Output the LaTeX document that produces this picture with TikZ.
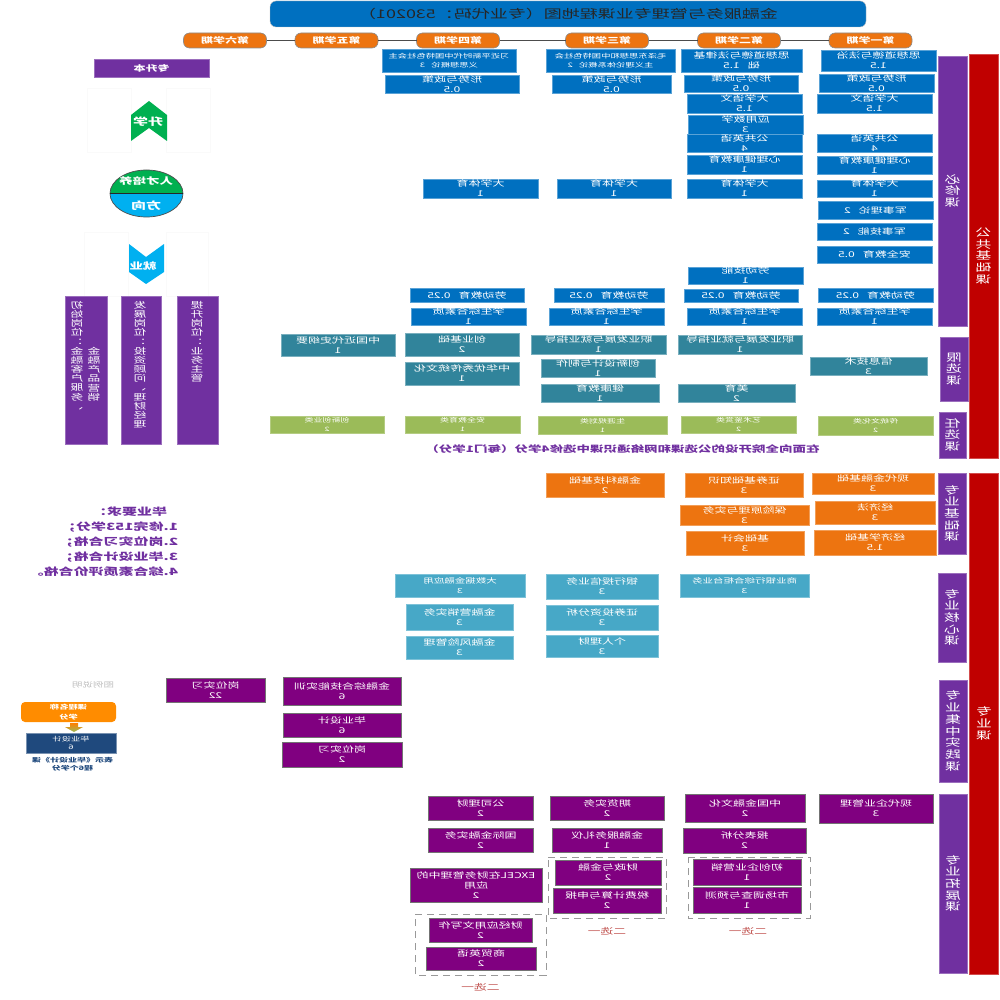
\documentclass[tikz,border=0pt]{standalone}
\usepackage{fontspec}
\setmainfont{Noto Sans CJK SC}[FakeStretch=1.5]
\definecolor{pubblue}{HTML}{0070C0}
\definecolor{pubteal}{HTML}{31849B}
\definecolor{pubgreen}{HTML}{9BBB59}
\definecolor{basorange}{HTML}{ED7410}
\definecolor{corecyan}{HTML}{47A8C7}
\definecolor{promag}{HTML}{800080}
\definecolor{barpurple}{HTML}{7030A0}
\definecolor{barred}{HTML}{C00000}
\definecolor{legendblue}{HTML}{1F497D}
\definecolor{arrowgreen}{HTML}{00B050}
\definecolor{arrowcyan}{HTML}{00B0F0}
\definecolor{pickred}{HTML}{C0504D}
\begin{document}
\begin{tikzpicture}[x=1pt, y=-1pt,
    every node/.append style={xscale=-1, inner sep=0pt, outer sep=0pt, align=center},
    course/.style={text=white, line width=0.7pt, font=\fontsize{8}{10}\selectfont},
    pubbox/.style={course, fill=pubblue, draw=pubblue!65},
    limbox/.style={course, fill=pubteal, draw=pubteal!65},
    optbox/.style={course, fill=pubgreen, draw=pubgreen!75, font=\fontsize{6}{9}\selectfont},
    basbox/.style={course, fill=basorange, draw=basorange!70},
    corebox/.style={course, fill=corecyan, draw=corecyan!70},
    magbox/.style={course, fill=promag, draw=black!55},
    tight/.style={font=\fontsize{6.2}{8.5}\selectfont},
    termpill/.style={rounded corners=6pt, fill=basorange, draw=black!45, line width=0.6pt, text=white,
      font=\fontsize{8}{8}\selectfont\bfseries, minimum width=83, minimum height=15},
    redbar/.style={fill=barred, draw=barred!70, text=white, line width=0.5pt, font=\fontsize{10.5}{11.7}\selectfont},
    purplebar/.style={fill=barpurple, draw=barpurple!70, text=white, line width=0.5pt, font=\fontsize{10.5}{11.7}\selectfont},
    jobbox/.style={fill=barpurple, draw=barpurple!70, line width=0.5pt},
    jobtext/.style={anchor=north, text=white, font=\fontsize{8.5}{9.2}\selectfont},
    pickbox/.style={draw=black!40, dashed, dash pattern=on 7pt off 5pt, line width=0.9pt},
    picktext/.style={text=pickred, font=\fontsize{8.5}{9}\selectfont},
    boldwhite/.style={text=white, font=\fontsize{9}{9}\selectfont\bfseries},
    ghost/.style={draw=black!2, line width=0.4pt}]

  \useasboundingbox (0,0) rectangle (1000,1000);

  % ---------------- title and terms ----------------
  \node[fill=pubblue, draw=black!25, rounded corners=6pt, minimum width=596, minimum height=26,
    font=\fontsize{12}{12}\selectfont, text=black!85] (title) at (568,14)
    {金融服务与管理专业课程地图（专业代码：530201）};

  \foreach \n/\x/\t in {t1/870.5/第一学期, t2/739/第二学期, t3/607/第三学期, t4/458/第四学期, t5/336.5/第五学期, t6/225/第六学期}
    \node[termpill] (\n) at (\x,40.5) {\t};
  \foreach \a/\b in {t1/t2, t2/t3, t3/t4, t4/t5, t5/t6}
    \draw[black!70, line width=1pt] (\a) -- (\b);

  % ---------------- category bars ----------------
  \node[redbar, minimum width=29, minimum height=404] (pubbar) at (983.5,256) {公\\共\\基\\础\\课};
  \node[redbar, minimum width=29, minimum height=501] (probar) at (984,723.5) {专\\业\\课};
  \foreach \n/\x/\y/\w/\h/\t in {
      s1/952.5/191/29/270/必\\修\\课,
      s2/954/369/28/64/限\\选\\课,
      s3/952.5/435/27/46/任\\选\\课,
      s4/952/513.5/28/81/专\\业\\基\\础\\课,
      s5/952/617.5/28/89/专\\业\\核\\心\\课,
      s6/953/731/28/102/专\\业\\集\\中\\实\\践\\课,
      s7/953/883.5/28/179/专\\业\\拓\\展\\课}
    \node[purplebar, minimum width=\w, minimum height=\h] (\n) at (\x,\y) {\t};

  % ---------------- public compulsory ----------------
  \foreach \n/\x/\y/\w/\h/\t in {
      a1/878.5/60.5/115/21/思想道德与法治\\1.5,
      a2/876.5/83/115/18/形势与政策\\0.5,
      a3/874.5/103.5/115/19/大学语文\\1.5,
      a4/874.5/143/115/18/公共英语\\4,
      a5/874.5/165/115/18/心理健康教育\\1,
      a6/874.5/188.5/115/17/大学体育\\1,
      a7/875.5/210/115/18/军事理论\quad 2,
      a8/874.5/231.5/115/17/军事技能\quad 2,
      a9/874.5/254.5/115/17/安全教育\quad 0.5,
      a10/875.5/295/115/14/劳动教育\quad 0.25,
      a11/874.5/316.5/115/17/学生综合素质\\1,
      b1/741.5/60.5/121/23/思想道德与法律基\\础\quad 1.5,
      b2/741/83.5/114/17/形势与政策\\0.5,
      b3/744.5/103.5/115/19/大学语文\\1.5,
      b4/745.5/124.5/115/19/应用数学\\3,
      b5/744.5/143/115/18/公共英语\\4,
      b6/744.5/164.5/115/19/心理健康教育\\1,
      b7/744.5/188.5/115/19/大学体育\\1,
      b8/745.5/275.5/115/17/劳动技能\\1,
      b9/741/295.5/114/13/劳动教育\quad 0.25,
      b10/744.5/316.5/115/17/学生综合素质\\1,
      c2/611.5/84/119/18/形势与政策\\0.5,
      c3/614/188.5/114/19/大学体育\\1,
      c4/609/295/110/14/劳动教育\quad 0.25,
      c5/606.5/316.5/115/17/学生综合素质\\1,
      d2/452/84/134/18/形势与政策\\0.5,
      d3/480.5/188.5/115/19/大学体育\\1,
      d4/467/295/114/14/劳动教育\quad 0.25,
      d5/468.5/316.5/115/17/学生综合素质\\1}
    \node[pubbox, minimum width=\w, minimum height=\h] (\n) at (\x,\y) {\t};
  \node[pubbox, tight, minimum width=129, minimum height=23] (c1) at (610.5,60.5) {毛泽东思想和中国特色社会\\主义理论体系概论\quad 2};
  \node[pubbox, tight, minimum width=134, minimum height=23] (d1) at (449,60.5) {习近平新时代中国特色社会主\\义思想概论\quad 3};

  % ---------------- limited and free electives ----------------
  \foreach \n/\x/\y/\w/\h/\t in {
      e1/868.5/366/117/18/信息技术\\3,
      e2/740/344.5/124/19/职业发展与就业指导\\1,
      e3/736.5/393/117/18/美育\\2,
      e4/598.5/344.5/135/19/职业发展与就业指导\\1,
      e5/598/368/114/18/创新设计与制作\\1,
      e6/600/393/118/18/健康教育\\1,
      e7/462/344.5/114/23/创业基础\\2,
      e8/462/373.5/114/23/中华优秀传统文化\\1,
      e9/338/345/114/22/中国近代史纲要\\1}
    \node[limbox, minimum width=\w, minimum height=\h] (\n) at (\x,\y) {\t};
  \foreach \n/\x/\y/\w/\h/\t in {
      g1/875.5/425.5/115/19/传统文化类\\2,
      g2/738.5/424.5/115/17/艺术鉴赏类\\2,
      g3/602.5/425/129/18/生涯规划类\\1,
      g4/462.5/424.5/115/17/安全教育类\\1,
      g5/327/424.5/114/17/创新创业类\\2}
    \node[optbox, minimum width=\w, minimum height=\h] (\n) at (\x,\y) {\t};
  \node[text=barpurple, font=\fontsize{9}{9}\selectfont\bfseries] (elecnote) at (622.5,449)
    {在面向全院开设的公选课和网络通识课中选修4学分（每门1学分）};

  % ---------------- specialty foundation and core ----------------
  \foreach \n/\x/\y/\w/\h/\t in {
      o1/873/483.5/122/21/现代金融基础\\3,
      o2/875/512.5/120/23/经济法\\3,
      o3/875/542.5/122/25/经济学基础\\1.5,
      o4/744/485/118/24/证券基础知识\\3,
      o5/744.5/515/129/20/保险原理与实务\\3,
      o6/745/543/118/24/基础会计\\3,
      o7/605/485/118/24/金融科技基础\\2}
    \node[basbox, minimum width=\w, minimum height=\h] (\n) at (\x,\y) {\t};
  \foreach \n/\x/\y/\w/\h/\t in {
      l2/602/586.5/112/25/银行授信业务\\3,
      l3/602/617.5/112/25/证券投资分析\\3,
      l4/602/646/112/22/个人理财\\3,
      l6/459.5/617/107/26/金融营销实务\\3,
      l7/459.5/647.5/107/23/金融风险管理\\3}
    \node[corebox, minimum width=\w, minimum height=\h] (\n) at (\x,\y) {\t};
  \node[corebox, font=\fontsize{7}{9.5}\selectfont, minimum width=129, minimum height=23] (l1) at (744.5,585.5) {商业银行综合柜台业务\\3};
  \node[corebox, font=\fontsize{7}{9.5}\selectfont, minimum width=130, minimum height=23] (l5) at (460,585.5) {大数据金融应用\\3};

  % ---------------- practice and extension ----------------
  \node[pickbox, minimum width=122, minimum height=61] (p1) at (749,887.5) {};
  \node[pickbox, minimum width=118, minimum height=61] (p2) at (607,887.5) {};
  \node[pickbox, minimum width=131, minimum height=61] (p3) at (480.5,944.5) {};
  \foreach \n/\x/\y/\w/\h/\t in {
      m1/342/691/118/28/金融综合技能实训\\6,
      m2/342/725/118/24/毕业设计\\6,
      m3/342/754.5/120/25/岗位实习\\2,
      m4/215.5/690/99/24/岗位实习\\22,
      m5/876/808.5/114/29/现代企业管理\\3,
      m6/745/808/120/28/中国金融文化\\2,
      m7/744.5/840.5/123/25/报表分析\\2,
      m8/747/872/108/26/初创企业营销\\1,
      m9/747/900/108/26/市场调查与预测\\1,
      m10/607/808/114/24/期货实务\\2,
      m11/607/840/110/24/金融服务礼仪\\1,
      m12/608/872.5/106/25/财政与金融\\2,
      m13/607/900.5/108/25/税费计算与申报\\2,
      m14/480.5/808/105/24/公司理财\\2,
      m15/480.5/840/105/24/国际金融实务\\2,
      m16/476/885/132/34/EXCEL在财务管理中的\\应用\\2,
      m17/480.5/930/103/24/财经应用文写作\\2,
      m18/481/958.5/110/23/商贸英语\\2}
    \node[magbox, minimum width=\w, minimum height=\h] (\n) at (\x,\y) {\t};
  \foreach \n/\x/\y in {q1/748/931, q2/607/931, q3/480.5/987}
    \node[picktext] (\n) at (\x,\y) {二选一};

  % ---------------- left: directions and jobs ----------------
  \draw[ghost] (87,88) rectangle (131,152);
  \draw[ghost] (166,88) rectangle (210,152);
  \draw[ghost] (84,232) rectangle (128,296);
  \draw[ghost] (166,232) rectangle (208,296);

  \node[fill=barpurple, draw=barpurple!70, minimum width=115, minimum height=18, boldwhite,
    font=\fontsize{8}{8}\selectfont\bfseries] (upgrade) at (151.5,68) {专升本};

  \fill[arrowgreen] (149,101) -- (167,115) -- (167,141) -- (149,128) -- (131,141) -- (131,115) -- cycle;
  \node[boldwhite, font=\fontsize{10}{10}\selectfont\bfseries] (study) at (148,122) {升学};

  \fill[arrowgreen] (110,193.5) arc[start angle=180, end angle=0, x radius=36.5, y radius=-23.5] -- cycle;
  \fill[arrowcyan] (110,193.5) arc[start angle=180, end angle=360, x radius=36.5, y radius=-23.5] -- cycle;
  \draw[black!70, line width=0.7pt] (146.5,193.5) ellipse[x radius=36.5, y radius=23.5];
  \draw[black!85, line width=0.7pt] (110,193.5) -- (183,193.5);
  \node[boldwhite] (talent) at (146,181.5) {人才培养};
  \node[boldwhite, font=\fontsize{10}{10}\selectfont\bfseries] (aim) at (146,206) {方向};

  \fill[arrowcyan] (129,244) -- (146,257) -- (164,244) -- (164,272) -- (146,284) -- (129,272) -- cycle;
  \node[boldwhite] (work) at (143,266) {就业};

  \node[jobbox, minimum width=41, minimum height=148] (j1) at (197.5,370) {};
  \node[jobbox, minimum width=40, minimum height=148] (j2) at (141,370) {};
  \node[jobbox, minimum width=42, minimum height=148] (j3) at (86,370) {};
  \node[jobtext] (j1a) at (197,301) {提\\升\\岗\\位\\：\\业\\务\\主\\管};
  \node[jobtext] (j2a) at (140,301) {发\\展\\岗\\位\\：\\投\\资\\顾\\问\\、\\理\\财\\经\\理};
  \node[jobtext] (j3a) at (77,301) {初\\始\\岗\\位\\：\\金\\融\\客\\户\\服\\务\\、};
  \node[jobtext] (j3b) at (94,347) {金\\融\\产\\品\\营\\销};

  % ---------------- graduation and legend ----------------
  \node[anchor=west, align=left, text=barpurple, font=\fontsize{10}{15}\selectfont\bfseries] (grad) at (178,542)
    {\hspace{11pt}毕业要求：\\1.修完153学分；\\2.岗位实习合格；\\3.毕业设计合格；\\4.综合素质评价合格。};

  \node[text=black!25, font=\fontsize{7}{7}\selectfont] (legendhead) at (93,685) {图例说明};
  \node[fill=orange!90!yellow, rounded corners=4pt, text=white, minimum width=95, minimum height=20,
    font=\fontsize{6.2}{10}\selectfont\bfseries] (legendtop) at (68.5,712) {课程名称\\学分};
  \node[fill=legendblue, draw=legendblue!60, text=white, minimum width=90, minimum height=20,
    font=\fontsize{6.2}{8.5}\selectfont] (legendlow) at (71,743) {毕业设计\\6};
  \shade[top color=orange, bottom color=pubgreen] (70,723) -- (78,723) -- (78,727) -- (83,727) -- (74,732) -- (65,727) -- (70,727) -- cycle;
  \node[text=legendblue, font=\fontsize{6}{8}\selectfont\bfseries] (legendnote) at (72.5,764) {表示《毕业设计》课\\程6个学分};
\end{tikzpicture}
\end{document}
